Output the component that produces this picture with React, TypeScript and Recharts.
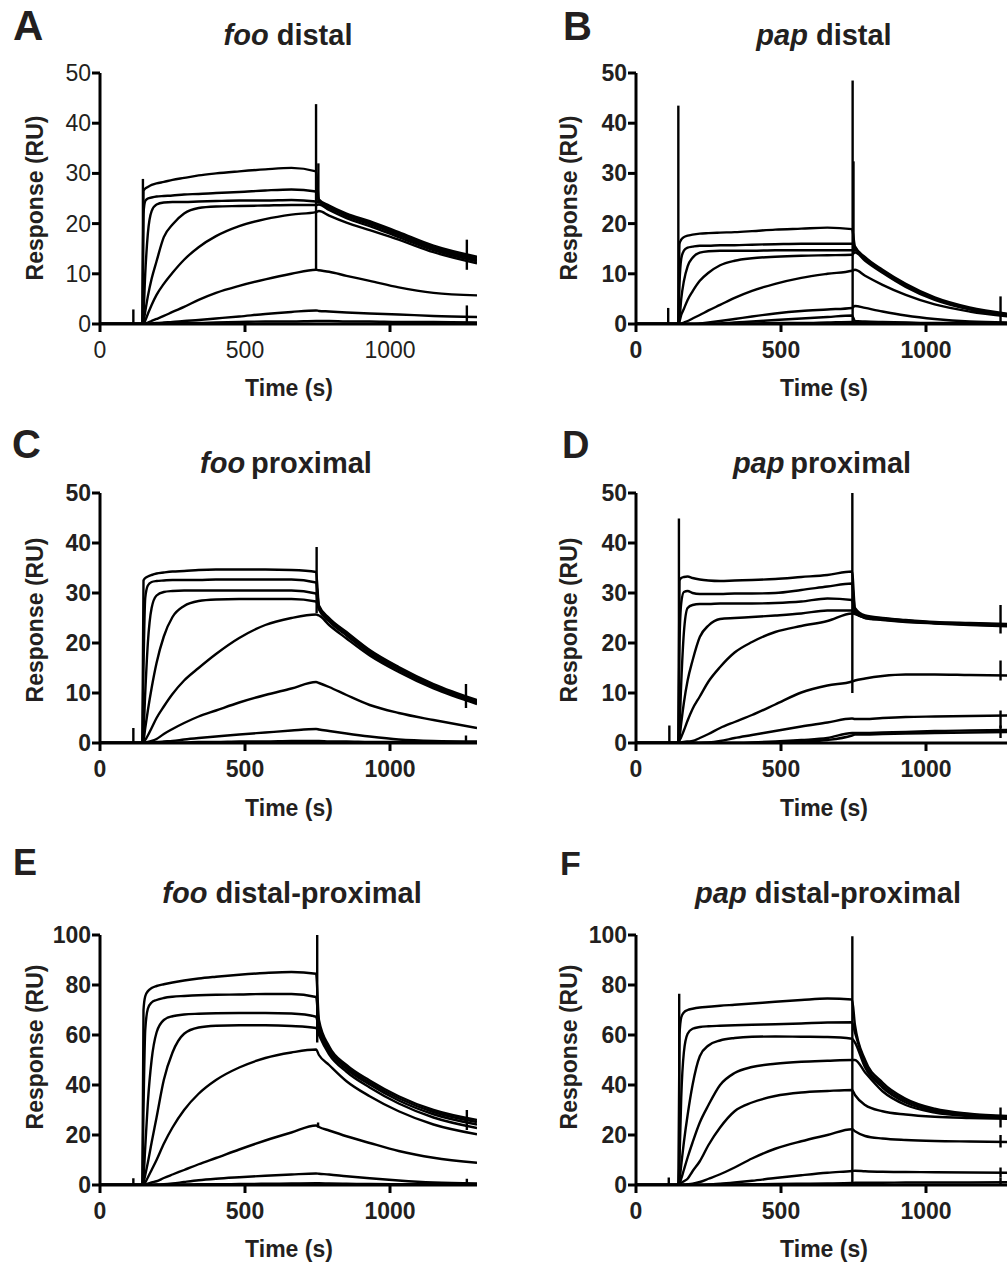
import React from 'react';
import { LineChart, Line, XAxis, YAxis, ReferenceLine } from 'recharts';

// Shared time grid (s)
const T = [0, 146, 150, 156, 165, 178, 195, 220, 250, 290, 340, 400, 480, 570, 660, 745, 755, 790, 850, 930, 1030, 1150, 1300];
const X_TICKS = [0, 500, 1000];
const Y_TICKS_50 = [0, 10, 20, 30, 40, 50];
const Y_TICKS_100 = [0, 20, 40, 60, 80, 100];

// Panel A: foo distal
const A_CURVES = [
  [0, 0, 26.5, 27.0, 27.3, 27.7, 28.0, 28.3, 28.7, 29.1, 29.6, 30.0, 30.4, 30.8, 31.1, 30.4, 24.8, 23.6, 22.0, 20.5, 18.3, 15.6, 13.4],
  [0, 0, 22, 24.5, 25.0, 25.2, 25.4, 25.5, 25.6, 25.8, 25.9, 26.1, 26.3, 26.6, 26.8, 26.4, 24.6, 23.4, 21.8, 20.2, 18.0, 15.3, 13.1],
  [0, 0, 2, 10, 18, 22.5, 23.8, 24.2, 24.3, 24.3, 24.4, 24.5, 24.6, 24.6, 24.7, 24.4, 24.3, 23.1, 21.5, 19.9, 17.7, 15.0, 12.8],
  [0, 0, 0.5, 2.5, 5.5, 9, 12.5, 17.3, 19.8, 22.0, 23.1, 23.4, 23.5, 23.6, 23.7, 23.7, 23.8, 22.7, 21.1, 19.5, 17.3, 14.7, 12.5],
  [0, 0, 0, 0.7, 2, 3.8, 5.8, 8, 10.2, 12.8, 15.3, 17.5, 19.5, 20.9, 21.8, 22.3, 22.5, 21.6, 20.2, 18.7, 16.8, 14.3, 12.1],
  [0, 0, 0, 0.1, 0.3, 0.6, 1.0, 1.6, 2.4, 3.4, 4.8, 6.2, 7.6, 8.9, 10.0, 10.8, 10.7, 10.4, 9.6, 8.6, 7.3, 6.2, 5.7],
  [0, 0, 0, 0, 0, 0.1, 0.2, 0.3, 0.4, 0.6, 0.8, 1.1, 1.5, 2.0, 2.4, 2.7, 2.6, 2.5, 2.3, 2.1, 1.9, 1.6, 1.4],
  [0, 0, 0, 0, 0, 0, 0, 0.1, 0.1, 0.2, 0.2, 0.3, 0.4, 0.5, 0.5, 0.6, 0.6, 0.6, 0.5, 0.5, 0.4, 0.4, 0.3],
];
const A_SPIKES = [[115, 0, 2.9], [148, 0, 28.9], [745, 10.8, 43.8], [753, 24, 32], [1265, 10.8, 16.8], [1265, 0, 3.7]];

// Panel B: pap distal
const B_CURVES = [
  [0, 0, 16, 16.8, 17.3, 17.6, 17.8, 18.0, 18.1, 18.2, 18.3, 18.5, 18.8, 19.0, 19.2, 18.9, 15.5, 13.3, 10.8, 8.0, 5.3, 3.3, 1.9],
  [0, 0, 8, 13, 14.6, 15.2, 15.4, 15.6, 15.6, 15.7, 15.7, 15.8, 15.9, 16.0, 16.0, 16.0, 15.2, 13.1, 10.6, 7.8, 5.1, 3.1, 1.8],
  [0, 0, 1, 5, 8.5, 11.5, 13.2, 14.2, 14.5, 14.6, 14.6, 14.6, 14.7, 14.7, 14.7, 14.7, 14.8, 12.9, 10.4, 7.6, 5.0, 3.0, 1.7],
  [0, 0, 0.5, 1.8, 3, 4.8, 6.5, 8.6, 10.2, 11.7, 12.6, 13.1, 13.4, 13.6, 13.7, 13.8, 14.3, 12.6, 10.2, 7.4, 4.8, 2.9, 1.6],
  [0, 0, 0, 0.1, 0.3, 0.6, 1.1, 1.8, 2.7, 3.8, 5.2, 6.6, 8.0, 9.2, 10.0, 10.6, 10.8, 9.6, 7.8, 5.8, 3.9, 2.5, 1.4],
  [0, 0, 0, 0, 0, 0, 0, 0.1, 0.3, 0.6, 1.0, 1.5, 2.1, 2.6, 2.9, 3.2, 3.6, 3.2, 2.5, 1.7, 1.0, 0.5, 0.3],
  [0, 0, 0, 0, 0, 0, 0, 0, 0, 0.1, 0.3, 0.5, 0.8, 1.1, 1.4, 1.7, 0.6, 0.5, 0.4, 0.3, 0.2, 0.2, 0.1],
  [0, 0, 0, 0, 0, 0, 0, 0, 0, 0, 0.1, 0.1, 0.2, 0.2, 0.3, 0.4, 0.3, 0.3, 0.2, 0.2, 0.1, 0.1, 0.1],
];
const B_SPIKES = [[111, 0, 3.2], [146, 0, 43.5], [747, 0, 48.5], [750, 14, 32.4], [1257, 0, 5.5]];

// Panel C: foo proximal
const C_CURVES = [
  [0, 0, 32.5, 33.0, 33.3, 33.6, 33.9, 34.1, 34.3, 34.4, 34.6, 34.7, 34.7, 34.7, 34.6, 34.2, 27.5, 25.0, 22.2, 18.6, 15.2, 11.8, 8.6],
  [0, 0, 15, 29, 31.5, 32.2, 32.4, 32.5, 32.6, 32.6, 32.6, 32.7, 32.7, 32.7, 32.7, 32.1, 27.2, 24.8, 22.0, 18.4, 15.0, 11.6, 8.4],
  [0, 0, 2, 10, 20, 27, 29.5, 30.2, 30.4, 30.5, 30.5, 30.5, 30.5, 30.5, 30.5, 29.9, 27.0, 24.6, 21.8, 18.2, 14.8, 11.4, 8.2],
  [0, 0, 0.5, 3, 6.5, 11, 16, 21.3, 25.2, 27.4, 28.4, 28.7, 28.8, 28.8, 28.8, 28.3, 26.7, 24.3, 21.5, 17.9, 14.6, 11.2, 8.0],
  [0, 0, 0, 0.6, 1.5, 3, 5, 7.3, 9.8, 12.5, 15.0, 17.8, 21.0, 23.6, 25.0, 25.7, 25.5, 23.6, 20.9, 17.5, 14.2, 10.9, 7.8],
  [0, 0, 0, 0.1, 0.2, 0.4, 0.8, 1.8, 2.8, 4.0, 5.3, 6.5, 8.1, 9.6, 10.9, 12.2, 12.0, 11.2, 9.6, 7.6, 6.0, 4.6, 3.0],
  [0, 0, 0, 0, 0, 0.1, 0.2, 0.3, 0.4, 0.7, 1.0, 1.3, 1.7, 2.1, 2.5, 2.8, 2.7, 2.4, 1.9, 1.3, 0.7, 0.4, 0.3],
  [0, 0, 0, 0, 0, 0, 0, 0, 0.1, 0.1, 0.2, 0.2, 0.3, 0.3, 0.4, 0.4, 0.4, 0.3, 0.3, 0.2, 0.2, 0.1, 0.1],
];
const C_SPIKES = [[115, 0, 3.0], [747, 26, 39.2], [1262, 7, 11.8], [1262, 0, 1.5]];

// Panel D: pap proximal
const D_CURVES = [
  [0, 0, 32.5, 33.0, 33.2, 33.3, 33.0, 32.7, 32.5, 32.4, 32.5, 32.6, 32.8, 33.2, 33.6, 34.3, 27.0, 25.5, 25.0, 24.6, 24.2, 24.0, 23.8],
  [0, 0, 20, 28, 30.2, 30.4, 30.0, 29.8, 29.8, 29.8, 29.9, 29.9, 30.0, 30.6, 31.3, 31.9, 26.6, 25.3, 24.9, 24.5, 24.1, 23.9, 23.6],
  [0, 0, 3, 12, 22, 27.0, 27.6, 27.8, 27.8, 27.9, 27.9, 27.9, 28.0, 28.3, 28.9, 28.6, 26.3, 25.1, 24.8, 24.4, 24.0, 23.8, 23.5],
  [0, 0, 1, 4, 8, 12.5, 16.5, 21.2, 23.5, 24.8, 25.0, 25.2, 25.5, 25.9, 26.5, 26.5, 26.0, 25.0, 24.7, 24.3, 24.0, 23.7, 23.4],
  [0, 0, 0.5, 1.2, 2.5, 4.5, 6.8, 9.3, 12.3, 15.2, 18.1, 20.2, 22.2, 23.4, 24.4, 25.9, 25.8, 25.0, 24.6, 24.2, 23.9, 23.6, 23.3],
  [0, 0, 0, 0.1, 0.2, 0.3, 0.4, 1.0, 1.8, 3.0, 4.2, 5.6, 7.7, 10.1, 11.5, 12.3, 12.5, 12.9, 13.4, 13.7, 13.7, 13.6, 13.5],
  [0, 0, 0, 0, 0, 0, 0, 0, 0.1, 0.4, 1.0, 1.6, 2.4, 3.3, 4.1, 4.9, 4.8, 4.8, 5.0, 5.2, 5.3, 5.4, 5.5],
  [0, 0, 0, 0, 0, 0, 0, 0, 0, 0, 0, 0.1, 0.3, 0.6, 1.0, 2.0, 2.0, 2.0, 2.1, 2.2, 2.4, 2.5, 2.6],
  [0, 0, 0, 0, 0, 0, 0, 0, 0, 0, 0, 0, 0.1, 0.3, 0.6, 1.5, 1.7, 1.7, 1.8, 1.9, 2.0, 2.1, 2.2],
];
const D_SPIKES = [[115, 0, 3.5], [148, 0, 44.9], [746, 10, 50], [1257, 21.9, 27.6], [1257, 12.5, 16.5], [1257, 3, 6.5], [1257, 1, 3.5]];

// Panel E: foo distal-proximal
const E_CURVES = [
  [0, 0, 70, 75.5, 77.5, 78.8, 79.6, 80.3, 81.0, 81.8, 82.6, 83.3, 84.1, 84.8, 85.2, 84.5, 66, 55.5, 48, 41.8, 35.5, 30, 26],
  [0, 0, 30, 62, 70.5, 73.0, 74.0, 74.8, 75.3, 75.6, 75.9, 76.1, 76.2, 76.4, 76.4, 75.2, 64, 54.5, 47.2, 41, 34.7, 29.2, 25.2],
  [0, 0, 3, 15, 33, 50, 61, 66, 67.5, 68.2, 68.5, 68.7, 68.8, 68.8, 68.6, 67.3, 62, 53.5, 46.4, 40.2, 33.8, 28.3, 24.2],
  [0, 0, 1, 4, 9, 17, 27, 42, 53, 60.5, 63, 63.7, 63.9, 63.9, 63.6, 62.8, 60, 52.3, 45.3, 39.0, 32.6, 27.0, 22.8],
  [0, 0, 0, 1, 3, 6, 10, 16.5, 23, 30, 36.5, 42, 47, 50.8, 53, 54.2, 52, 48, 41.5, 35.5, 29.5, 24.2, 20.3],
  [0, 0, 0, 0.2, 0.5, 1.0, 1.5, 2.8, 4.2, 6.0, 8.3, 10.8, 14.2, 17.8, 21.0, 23.8, 23.2, 21.8, 19.5, 16.8, 13.6, 10.9, 8.9],
  [0, 0, 0, 0, 0, 0.1, 0.2, 0.3, 0.6, 1.2, 1.9, 2.5, 3.1, 3.7, 4.2, 4.6, 4.5, 4.2, 3.5, 2.7, 1.8, 1.0, 0.6],
  [0, 0, 0, 0, 0, 0, 0, 0.1, 0.1, 0.2, 0.3, 0.3, 0.4, 0.5, 0.6, 0.7, 0.7, 0.6, 0.5, 0.4, 0.3, 0.3, 0.2],
];
const E_SPIKES = [[115, 0, 2.7], [749, 57, 100], [752, 23, 25], [1265, 22, 30], [1265, 0, 2.5]];

// Panel F: pap distal-proximal
const F_CURVES = [
  [0, 0, 60, 67, 69, 70, 70.5, 71.0, 71.3, 71.7, 72.1, 72.6, 73.3, 74.0, 74.6, 74.2, 64, 50, 41, 34.5, 30.5, 28.5, 27.5],
  [0, 0, 10, 35, 53, 60.5, 62.5, 63.2, 63.5, 63.7, 63.9, 64.1, 64.3, 64.6, 65.0, 65.1, 61, 48.5, 40, 33.8, 30, 28.2, 27.2],
  [0, 0, 2, 8, 17, 28, 40, 51.5, 55.8, 57.8, 58.8, 59.3, 59.4, 59.3, 59.2, 58.5, 57, 47, 39, 33.0, 29.5, 27.8, 27.0],
  [0, 0, 0.5, 2.5, 6, 11, 17, 25, 32, 40, 44.8, 47.2, 48.5, 49.3, 49.7, 50.0, 50, 45, 37.5, 32.0, 29.0, 27.5, 26.8],
  [0, 0, 0, 0.8, 1.5, 2.5, 5.5, 9.5, 16, 23, 29.5, 33, 35.6, 37.0, 37.6, 38.0, 36, 32, 29.5, 28.2, 27.3, 26.8, 26.4],
  [0, 0, 0, 0.1, 0.2, 0.3, 0.5, 1.2, 2.5, 4.3, 7.0, 10.6, 14.5, 17.5, 20.0, 22.3, 21.5, 19.6, 18.6, 18.0, 17.6, 17.4, 17.2],
  [0, 0, 0, 0, 0, 0, 0, 0.1, 0.2, 0.5, 1.0, 1.7, 2.8, 3.9, 4.9, 5.6, 5.7, 5.5, 5.3, 5.2, 5.1, 5.0, 4.9],
  [0, 0, 0, 0, 0, 0, 0, 0, 0.1, 0.1, 0.2, 0.3, 0.4, 0.5, 0.6, 0.8, 0.9, 0.9, 0.9, 1.0, 1.0, 1.0, 1.1],
];
const F_SPIKES = [[113, 0, 3], [149, 0, 76.5], [746, 0, 99.5], [1257, 23, 31], [1257, 15, 20], [1257, 3, 7], [1257, 0, 3]];

const FONT = '"Liberation Sans", Arial, Helvetica, sans-serif';
const TEXT = '#231f20';
const AXIS_W = 3;
const TICK_LEN = 7;
const PLOT_LEFT = 100; // margin.left + yAxis width, inside each chart
const MARGIN_TOP = 20;

type PanelProps = {
  curves: number[][];
  spikes: number[][];
  left: number;
  plotTop: number;
  plotH: number;
  yMax: number;
  yTicks: number[];
  bold: boolean;
};

function Panel({ curves, spikes, left, plotTop, plotH, yMax, yTicks, bold }: PanelProps) {
  const W = 487;
  const H = plotH + 65;
  const axisY = MARGIN_TOP + plotH;
  const weight = bold ? 'bold' : 'normal';

  const XTick = (props: any) => {
    const { x, payload } = props;
    return (
      <g>
        <line x1={x} x2={x} y1={axisY} y2={axisY + TICK_LEN + 1} stroke="#000" strokeWidth={AXIS_W} />
        <text x={x} y={axisY + 34} textAnchor="middle" fontFamily={FONT} fontSize={23} fontWeight={weight} fill={TEXT}>
          {payload.value}
        </text>
      </g>
    );
  };
  const YTick = (props: any) => {
    const { y, payload } = props;
    return (
      <g>
        <line x1={PLOT_LEFT - TICK_LEN - 1} x2={PLOT_LEFT} y1={y} y2={y} stroke="#000" strokeWidth={AXIS_W} />
        <text x={PLOT_LEFT - TICK_LEN - 2} y={y + 8} textAnchor="end" fontFamily={FONT} fontSize={23} fontWeight={weight} fill={TEXT}>
          {payload.value}
        </text>
      </g>
    );
  };

  return (
    <div style={{ position: 'absolute', left, top: plotTop - MARGIN_TOP }}>
      <LineChart width={W} height={H} margin={{ top: MARGIN_TOP, right: 10, bottom: 5, left: 40 }}>
        <XAxis
          type="number"
          dataKey="t"
          domain={[0, 1300]}
          ticks={X_TICKS}
          interval={0}
          allowDataOverflow
          height={40}
          axisLine={false}
          tickLine={false}
          tick={XTick}
        />
        <YAxis
          type="number"
          domain={[0, yMax]}
          ticks={yTicks}
          interval={0}
          allowDataOverflow
          width={60}
          axisLine={false}
          tickLine={false}
          tick={YTick}
        />
        <ReferenceLine x={0} stroke="#000" strokeWidth={AXIS_W} ifOverflow="visible" />
        <ReferenceLine y={0} stroke="#000" strokeWidth={AXIS_W} ifOverflow="visible" />
        {curves.map((c, i) => (
          <Line
            key={'c' + i}
            data={T.map((t, j) => ({ t, v: c[j] }))}
            dataKey="v"
            type="monotone"
            stroke="#000"
            strokeWidth={2.4}
            dot={false}
            activeDot={false}
            isAnimationActive={false}
          />
        ))}
        {spikes.map((s, i) => (
          <Line
            key={'s' + i}
            data={[{ t: s[0], v: s[1] }, { t: s[0], v: s[2] }]}
            dataKey="v"
            type="linear"
            stroke="#000"
            strokeWidth={2.4}
            dot={false}
            activeDot={false}
            isAnimationActive={false}
          />
        ))}
      </LineChart>
    </div>
  );
}

const TITLES = [
  { gene: 'foo', rest: ' distal', x: 288, y: 45 },
  { gene: 'pap', rest: ' distal', x: 824, y: 45 },
  { gene: 'foo', rest: '\u2009proximal', x: 286, y: 473 },
  { gene: 'pap', rest: '\u2009proximal', x: 822, y: 473 },
  { gene: 'foo', rest: ' distal-proximal', x: 292, y: 903 },
  { gene: 'pap', rest: ' distal-proximal', x: 828, y: 903 },
];
const LETTERS = [
  { t: 'A', x: 13, y: 40, s: 42 },
  { t: 'B', x: 563, y: 40, s: 40 },
  { t: 'C', x: 12, y: 458, s: 40 },
  { t: 'D', x: 562, y: 458, s: 38 },
  { t: 'E', x: 13, y: 875, s: 36 },
  { t: 'F', x: 560, y: 875, s: 34 },
];
const X_LABELS = [
  { x: 289, y: 396 }, { x: 824, y: 396 },
  { x: 289, y: 816 }, { x: 824, y: 816 },
  { x: 289, y: 1257 }, { x: 824, y: 1257 },
];
const Y_LABELS = [
  { x: 43, y: 198 }, { x: 577, y: 198 },
  { x: 43, y: 620 }, { x: 577, y: 620 },
  { x: 43, y: 1047 }, { x: 577, y: 1047 },
];

export default function App() {
  return (
    <div style={{ position: 'absolute', left: 0, top: 0, width: 1007, height: 1268, overflow: 'hidden', background: '#fff' }}>
      <Panel curves={A_CURVES} spikes={A_SPIKES} left={0} plotTop={73} plotH={251} yMax={50} yTicks={Y_TICKS_50} bold={false} />
      <Panel curves={B_CURVES} spikes={B_SPIKES} left={536} plotTop={73} plotH={251} yMax={50} yTicks={Y_TICKS_50} bold={true} />
      <Panel curves={C_CURVES} spikes={C_SPIKES} left={0} plotTop={493} plotH={250} yMax={50} yTicks={Y_TICKS_50} bold={true} />
      <Panel curves={D_CURVES} spikes={D_SPIKES} left={536} plotTop={493} plotH={250} yMax={50} yTicks={Y_TICKS_50} bold={true} />
      <Panel curves={E_CURVES} spikes={E_SPIKES} left={0} plotTop={935} plotH={250} yMax={100} yTicks={Y_TICKS_100} bold={true} />
      <Panel curves={F_CURVES} spikes={F_SPIKES} left={536} plotTop={935} plotH={250} yMax={100} yTicks={Y_TICKS_100} bold={true} />
      <svg width={1007} height={1268} style={{ position: 'absolute', left: 0, top: 0, pointerEvents: 'none' }}>
        {TITLES.map((t, i) => (
          <text key={'t' + i} x={t.x} y={t.y} textAnchor="middle" fontFamily={FONT} fontSize={29} fontWeight="bold" fill={TEXT}>
            <tspan fontStyle="italic">{t.gene}</tspan>
            <tspan>{t.rest}</tspan>
          </text>
        ))}
        {LETTERS.map((l, i) => (
          <text key={'l' + i} x={l.x} y={l.y} fontFamily={FONT} fontSize={l.s} fontWeight="bold" fill={TEXT}>{l.t}</text>
        ))}
        {X_LABELS.map((l, i) => (
          <text key={'x' + i} x={l.x} y={l.y} textAnchor="middle" fontFamily={FONT} fontSize={23} fontWeight="bold" fill={TEXT}>Time (s)</text>
        ))}
        {Y_LABELS.map((l, i) => (
          <text key={'y' + i} x={0} y={0} transform={`translate(${l.x},${l.y}) rotate(-90)`} textAnchor="middle" fontFamily={FONT} fontSize={23} fontWeight="bold" fill={TEXT}>Response (RU)</text>
        ))}
      </svg>
    </div>
  );
}
